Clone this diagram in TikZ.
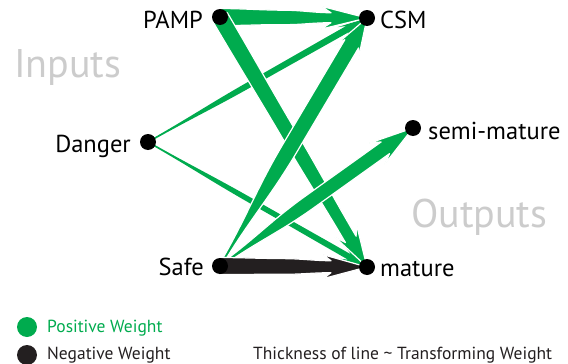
\documentclass[tikz,border=0pt]{standalone}
\usepackage{fontspec}
\setmainfont{PT Sans}
\usetikzlibrary{calc,backgrounds}
\definecolor{pos}{RGB}{0,171,78}
\definecolor{neg}{RGB}{35,31,32}
\definecolor{faint}{RGB}{204,204,204}
% #1 style, #2 from, #3 to, #4 start half-width, #5 neck half-width, #6 neck dist,
% #7 barb dist, #8 barb half-width, #9 half-width at the middle
\newcommand\tarr[9]{%
 \path (#2.center); \pgfgetlastxy{\tax}{\tay}%
 \path (#3.center); \pgfgetlastxy{\tbx}{\tby}%
 \pgfmathsetmacro\tang{atan2(\tby-\tay,\tbx-\tax)}%
 \pgfmathsetmacro\tlen{veclen(\tbx-\tax,\tby-\tay)}%
 \begin{scope}[shift={(#2.center)},rotate=\tang,x=1pt,y=1pt]
  \path[#1] (0,#4) to[out=0,in=180] (0.5*\tlen-0.25*#6,#9) to[out=0,in=180] (\tlen-#6,#5)
     -- (\tlen-#7,#8) -- (\tlen,0)
     -- (\tlen-#7,-#8) -- (\tlen-#6,-#5) to[out=180,in=0] (0.5*\tlen-0.25*#6,-#9)
     to[out=180,in=0] (0,-#4) -- cycle;
 \end{scope}}
\tikzset{
 dot/.style={circle,fill=black,minimum size=16pt,inner sep=0pt},
 lbl/.style={font=\fontsize{24.5}{24.5}\selectfont, inner sep=0pt},
 big/.style={font=\fontsize{40}{40}\selectfont, inner sep=0pt, text=faint},
 leg/.style={font=\fontsize{17.5}{17.5}\selectfont, inner sep=0pt},
 legdot/.style={circle,minimum size=20pt,inner sep=0pt},
 pa/.style={fill=pos, draw=white, line width=1.2pt, line join=round},
 na/.style={fill=neg, draw=white, line width=1.2pt, line join=round},
 thinarr/.style={fill=pos},
}
\begin{document}
\begin{tikzpicture}[x=1pt,y=-1pt]
\useasboundingbox (0,0) rectangle (568,364);
% nodes
\node[dot] (pamp) at (220,17) {};
\node[dot] (csm) at (367,18) {};
\node[dot] (danger) at (148,142) {};
\node[dot] (semi) at (413,128) {};
\node[dot] (safe) at (220,266) {};
\node[dot] (mature) at (367,267) {};
% labels
\node[lbl, anchor=base east] (tpamp) at (203,28) {PAMP};
\node[lbl, anchor=base west] (tcsm) at (380,28) {CSM};
\node[lbl, anchor=base east] (tdanger) at (131,152) {Danger};
\node[lbl, anchor=base west] (tsemi) at (428,139) {semi-mature};
\node[lbl, anchor=base east] (tsafe) at (204,275) {Safe};
\node[lbl, anchor=base west] (tmature) at (380,276) {mature};
\node[big, anchor=base west] (tin) at (14,77) {Inputs};
\node[big, anchor=base west] (tout) at (411,227) {Outputs};
% legend
\node[legdot, fill=pos] (lpos) at (27,327) {};
\node[legdot, fill=neg] (lneg) at (27,355) {};
\node[leg, anchor=base west, text=pos] (tpos) at (47,332) {Positive Weight};
\node[leg, anchor=base west, text=neg] (tneg) at (47,359) {Negative Weight};
\node[leg, anchor=base west, text=neg] (tthick) at (253,359) {Thickness of line \textasciitilde{} Transforming Weight};
% connectors
\begin{pgfonlayer}{background}
\tarr{thinarr}{danger}{csm}{0.8}{3.3}{22}{30}{6.5}{3}
\tarr{thinarr}{danger}{mature}{0.8}{3}{20}{27}{6}{2.7}
\tarr{pa}{pamp}{csm}{8.5}{5}{36}{46}{11.5}{7.2}
\tarr{pa}{pamp}{mature}{8.5}{6.2}{32}{42}{12.5}{7.6}
\tarr{pa}{safe}{csm}{1.5}{8}{30}{40}{13.5}{8}
\tarr{pa}{safe}{semi}{1.5}{7.2}{34}{44}{13}{7.2}
\tarr{na}{safe}{mature}{8.5}{6}{36}{44}{12}{7.8}
\end{pgfonlayer}
\end{tikzpicture}
\end{document}
